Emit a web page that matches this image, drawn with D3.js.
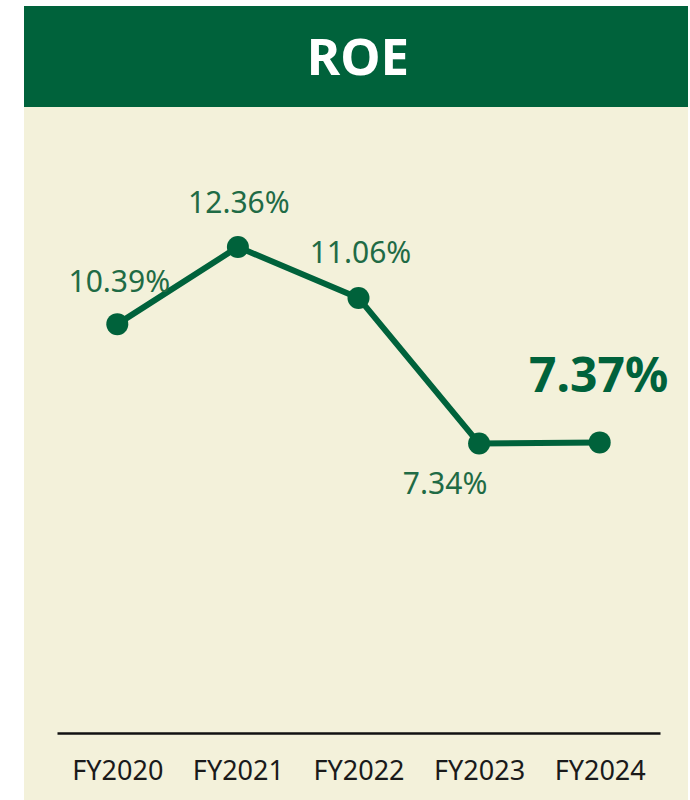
<!DOCTYPE html>
<html>
<head>
<meta charset="utf-8">
<script src="https://cdn.jsdelivr.net/npm/d3@7"></script>
<style>
  body { margin: 0; background: #fff; }
  svg { display: block; }
</style>
</head>
<body>
<svg id="chart"></svg>
<script>
// data
const years = ["FY2020", "FY2021", "FY2022", "FY2023", "FY2024"];
const roe = [10.39, 12.36, 11.06, 7.34, 7.37];
const labels = ["10.39%", "12.36%", "11.06%", "7.34%", "7.37%"];

const config = {
    width: 690,
    height: 800,
    panel: { left: 24, right: 688, top: 6, headerBottom: 107 },
    green: "#00623b",
    beige: "#f3f1da"
};

const svg = d3.select("#chart")
    .attr("width", config.width)
    .attr("height", config.height);

// background panel + header
svg.append("rect")
    .attr("x", config.panel.left)
    .attr("y", config.panel.top)
    .attr("width", config.panel.right - config.panel.left)
    .attr("height", config.height - config.panel.top)
    .attr("fill", config.beige);

svg.append("rect")
    .attr("x", config.panel.left)
    .attr("y", config.panel.top)
    .attr("width", config.panel.right - config.panel.left)
    .attr("height", config.panel.headerBottom - config.panel.top)
    .attr("fill", config.green);

svg.append("text")
    .attr("x", (config.panel.left + config.panel.right) / 2 + 2)
    .attr("y", 75)
    .attr("text-anchor", "middle")
    .attr("fill", "#fff")
    .style("font-family", "'Noto Sans', sans-serif")
    .style("font-weight", 700)
    .style("font-size", "51px")
    .text("ROE");

// scales
const xScale = d3.scalePoint()
    .domain(years)
    .range([57, 660])
    .padding(0.5);

// 0% sits on the axis baseline
const yScale = d3.scaleLinear()
    .domain([0, 12.36])
    .range([731, 247]);

// x axis
const xAxis = d3.axisBottom(xScale).tickSize(0).tickPadding(27);
const xAxisG = svg.append("g")
    .attr("transform", "translate(0,733)")
    .call(xAxis);

xAxisG.select(".domain")
    .attr("stroke", "#111")
    .attr("stroke-width", 2.5);

xAxisG.selectAll(".tick text")
    .attr("fill", "#1a1a1a")
    .attr("dy", 0)
    .attr("y", 47)
    .style("font-family", "'Noto Sans', sans-serif")
    .style("font-size", "27px");

// line
const line = d3.line()
    .x((d, i) => xScale(years[i]))
    .y(d => yScale(d));

svg.append("path")
    .datum(roe)
    .attr("fill", "none")
    .attr("stroke", config.green)
    .attr("stroke-width", 6)
    .attr("d", line);

svg.selectAll(".point")
    .data(roe)
    .join("circle")
    .attr("class", "point")
    .attr("cx", (d, i) => xScale(years[i]))
    .attr("cy", d => yScale(d))
    .attr("r", 11)
    .attr("fill", config.green);

// value labels (offsets per point)
const labelDx = [2, 1, 2, -34, -1];
const labelDy = [-32, -34, -35, 50, -50];

svg.selectAll(".val")
    .data(roe)
    .join("text")
    .attr("class", "val")
    .attr("x", (d, i) => xScale(years[i]) + labelDx[i])
    .attr("y", (d, i) => yScale(d) + labelDy[i])
    .attr("text-anchor", "middle")
    .attr("fill", (d, i) => i === 4 ? config.green : "#1f6b45")
    .style("font-family", "'Noto Sans', sans-serif")
    .style("font-weight", (d, i) => i === 4 ? 700 : 400)
    .style("font-size", (d, i) => i === 4 ? "48px" : "30px")
    .text((d, i) => labels[i]);
</script>
</body>
</html>
